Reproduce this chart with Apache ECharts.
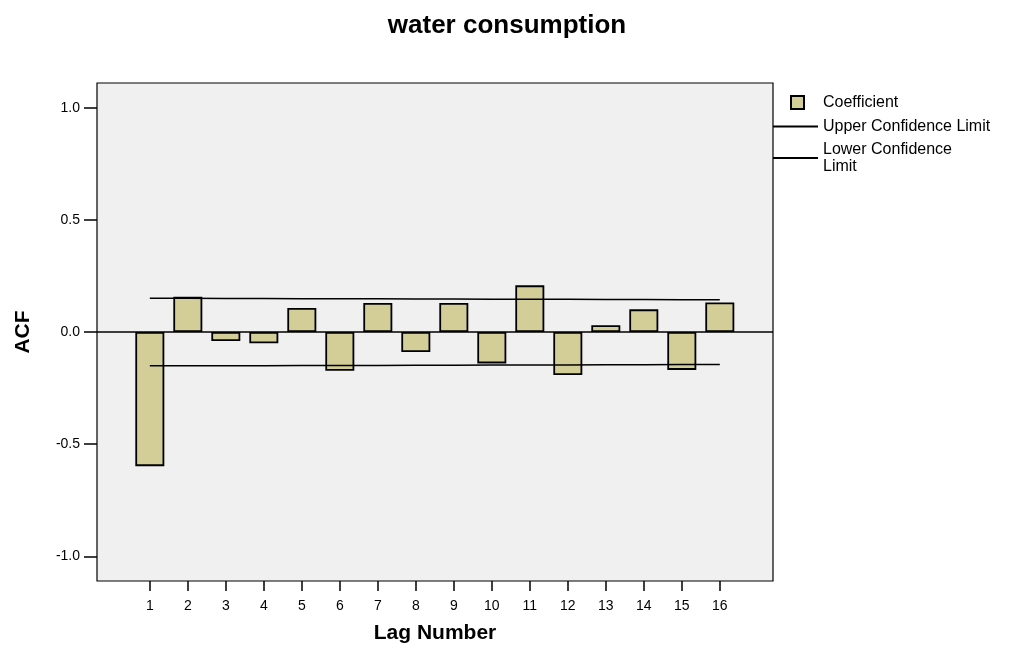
<!DOCTYPE html>
<html>
<head>
<meta charset="utf-8">
<script src="https://cdn.jsdelivr.net/npm/echarts@6/dist/echarts.min.js"></script>
<style>
html,body{margin:0;padding:0;background:#fff;}
#chart{width:1014px;height:649px;}
</style>
</head>
<body>
<div id="chart"></div>
<script>
var lags = [1,2,3,4,5,6,7,8,9,10,11,12,13,14,15,16];
var coefficient = [-0.598,0.157,-0.040,-0.050,0.107,-0.173,0.129,-0.089,0.129,-0.140,0.208,-0.192,0.030,0.101,-0.169,0.132];
var upperLimit = [0.150,0.150,0.149,0.149,0.148,0.148,0.148,0.147,0.147,0.146,0.146,0.146,0.145,0.145,0.144,0.144];
var lowerLimit = [-0.151,-0.151,-0.150,-0.150,-0.149,-0.149,-0.149,-0.148,-0.148,-0.147,-0.147,-0.147,-0.146,-0.146,-0.145,-0.145];
var yTicks = [-1.0,-0.5,0.0,0.5,1.0];

var FONT = 'Liberation Sans, Arial, sans-serif';
function pairs(vals){ return lags.map(function(l,i){ return [l, vals[i]]; }); }

var chart = echarts.init(document.getElementById('chart'), null, {renderer:'canvas'});
chart.setOption({
  animation:false,
  backgroundColor:'#ffffff',
  textStyle:{fontFamily:FONT},
  title:{
    text:'water consumption',
    left:'center', top:8,
    textStyle:{fontFamily:FONT, fontSize:26, fontWeight:'bold', color:'#000'}
  },
  grid:{
    left:97, right:241, top:83, bottom:67,
    show:true, backgroundColor:'#f0f0f0', borderColor:'#000', borderWidth:1.2,
    containLabel:false
  },
  legend:[
    {
      data:['Coefficient'], left:790, top:94, padding:0,
      itemWidth:13, itemHeight:13, icon:'rect',
      textStyle:{fontFamily:FONT, fontSize:16, color:'#000', lineHeight:17, padding:[0,0,0,14]}
    },
    {
      data:['Upper Confidence Limit'], left:773, top:118, padding:0,
      itemWidth:45, itemHeight:2, icon:'rect',
      textStyle:{fontFamily:FONT, fontSize:16, color:'#000', lineHeight:17}
    },
    {
      data:['Lower Confidence Limit'], left:773, top:141, padding:0,
      itemWidth:45, itemHeight:2, icon:'rect',
      formatter:function(){ return 'Lower Confidence\nLimit'; },
      textStyle:{fontFamily:FONT, fontSize:16, color:'#000', lineHeight:17}
    }
  ],
  xAxis:{
    type:'value', min:-0.39, max:17.4,
    name:'Lag Number', nameLocation:'middle', nameGap:42,
    nameTextStyle:{fontFamily:FONT, fontSize:21, fontWeight:'bold', color:'#000'},
    axisLine:{show:false, onZero:false},
    axisTick:{show:true, length:10, customValues:lags, lineStyle:{color:'#000', width:1.5}},
    axisLabel:{customValues:lags, margin:18, fontFamily:FONT, fontSize:14, color:'#000'},
    splitLine:{show:false}
  },
  yAxis:{
    type:'value', min:-1.11, max:1.11,
    name:'ACF', nameLocation:'middle', nameGap:63, nameRotate:90,
    nameTextStyle:{fontFamily:FONT, fontSize:21, fontWeight:'bold', color:'#000'},
    axisLine:{show:false, onZero:false},
    axisTick:{show:true, length:13, customValues:yTicks, lineStyle:{color:'#000', width:1.5}},
    axisLabel:{customValues:yTicks, margin:17, fontFamily:FONT, fontSize:14, color:'#000',
      formatter:function(v){ return v.toFixed(1); }},
    splitLine:{show:false}
  },
  series:[
    {
      name:'Coefficient', type:'bar', barWidth:29,
      data:pairs(coefficient),
      itemStyle:{color:'#d3ce98', borderColor:'#000', borderWidth:1.8},
      markLine:{
        silent:true, symbol:'none', label:{show:false},
        lineStyle:{color:'#000', width:1.5, type:'solid'},
        data:[{yAxis:0}]
      },
      z:2
    },
    {
      name:'Upper Confidence Limit', type:'line', data:pairs(upperLimit),
      showSymbol:false, symbol:'none',
      lineStyle:{color:'#000', width:1.5},
      itemStyle:{color:'#000'}, z:3
    },
    {
      name:'Lower Confidence Limit', type:'line', data:pairs(lowerLimit),
      showSymbol:false, symbol:'none',
      lineStyle:{color:'#000', width:1.5},
      itemStyle:{color:'#000'}, z:3
    }
  ]
});
</script>
</body>
</html>
